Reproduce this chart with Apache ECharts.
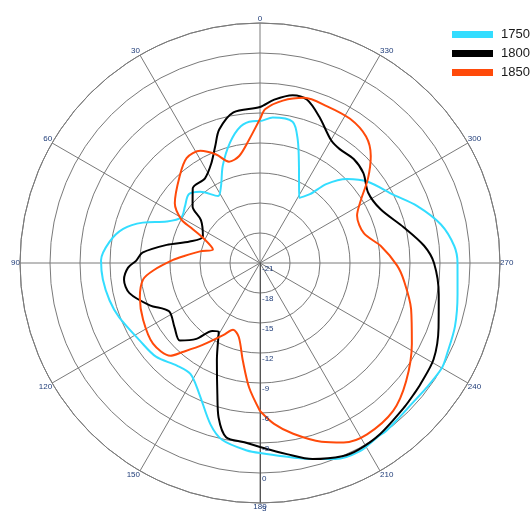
<!DOCTYPE html>
<html>
<head>
<meta charset="utf-8">
<script src="https://cdn.jsdelivr.net/npm/echarts@6/dist/echarts.min.js"></script>
<style>html,body{margin:0;padding:0;background:#fff;}#c{width:530px;height:513px;}</style>
</head>
<body>
<div id="c"></div>
<script>
const seriesNames = ['1750', '1800', '1850'];
const angleTicks = [0, 30, 60, 90, 120, 150, 180, 210, 240, 270, 300, 330];
const radiusTicks = [-21, -18, -15, -12, -9, -6, -3, 0, 3];

const angles1750 = [0, 3, 8, 14, 21, 27, 32, 40, 46, 53, 60, 66, 71, 76, 82, 89, 96, 104, 111, 123, 132, 141, 148, 155, 163, 168, 176, 180, 186, 194, 201, 208, 214, 217, 222, 227, 233, 240, 244, 252, 261, 270, 275, 282, 290, 297, 307, 314, 320, 324, 329, 338, 343, 347, 355];
const values1750 = [-6.8, -6.8, -7.2, -8.6, -10.6, -12.4, -13.1, -11.7, -11.1, -11.6, -11.9, -10.8, -8.6, -6.9, -5.8, -5.1, -5.2, -5.5, -5.9, -6.7, -7.0, -7.8, -7.9, -6.6, -4.1, -2.9, -2.2, -2.0, -1.6, -0.8, 0.0, 0.3, 0.0, 0.0, -0.2, -0.3, -0.2, 0.0, -0.2, -0.5, -1.0, -1.25, -1.5, -2.5, -4.3, -6.0, -7.5, -8.9, -10.7, -12.5, -13.4, -10.6, -8.1, -6.5, -6.4];

const angles1800 = [0, 10, 17, 21, 26, 33, 42, 50, 54, 65, 73, 79, 85, 89, 92, 97, 103, 111, 118, 127, 134, 140, 145, 149, 156, 162, 165, 169, 175, 180, 188, 195, 203, 208, 215, 225, 230, 233, 241, 250, 260, 270, 276, 284, 294, 303, 311, 318, 325, 330, 338, 344, 349, 355];
const values1800 = [-5.4, -5.7, -7.05, -8.5, -9.9, -10.9, -10.95, -12.2, -13.7, -14.7, -13.65, -11.5, -9.2, -8.6, -7.8, -7.3, -7.6, -9.2, -10.7, -10.3, -9.85, -11.1, -12.7, -13.0, -10.4, -7.2, -5.0, -3.25, -3.0, -2.6, -1.7, -0.7, 0.0, 0.1, -0.1, -0.6, -0.8, -0.9, -1.15, -2.0, -2.85, -3.6, -4.5, -6.2, -7.8, -8.1, -7.3, -7.0, -7.1, -6.8, -5.2, -4.0, -3.9, -4.6];

const angles1850 = [0, 5, 11, 17, 22, 28, 35, 43, 55, 61, 63, 67, 74, 79, 85, 88, 94, 98, 106, 116, 127, 136, 139, 145, 153, 158, 164, 170, 175, 180, 185, 191, 199, 205, 212, 222, 231, 242, 253, 263, 269, 278, 286, 296, 302, 308, 314, 320, 328, 337, 345, 352, 358];
const values1850 = [-6.6, -8.6, -10.1, -10.4, -9.3, -8.3, -8.2, -9.2, -10.6, -12.0, -13.3, -15.0, -16.1, -14.9, -13.3, -12.3, -10.3, -9.2, -8.5, -8.0, -7.6, -8.1, -9.2, -11.0, -12.9, -13.8, -13.3, -11.1, -8.5, -6.2, -4.85, -3.6, -2.1, -1.2, -0.8, -1.1, -2.2, -3.8, -5.2, -6.5, -7.3, -8.8, -10.2, -10.2, -9.1, -7.3, -5.6, -4.5, -4.0, -3.95, -3.9, -4.6, -5.6];

const colors = ['#33DDFF', '#000000', '#FF4A0A'];

// angle axis runs 180..540 starting at the bottom so the radius axis lies along 180
function toLoop(angles, values) {
  const pts = angles.map((a, i) => [values[i], a < 180 ? a + 360 : a]);
  pts.sort((p, q) => p[1] - q[1]);
  pts.push([pts[0][0], pts[0][1] + 360]);
  return pts;
}

const chart = echarts.init(document.getElementById('c'), null, {renderer: 'canvas'});
const font = 'Liberation Sans, Arial, sans-serif';
const rMin = radiusTicks[0], rMax = radiusTicks[radiusTicks.length - 1];
chart.setOption({
  animation: false,
  backgroundColor: '#ffffff',
  color: colors,
  legend: {
    orient: 'vertical',
    left: 447,
    top: 23,
    itemWidth: 41,
    itemHeight: 7,
    itemGap: 6,
    icon: 'rect',
    textStyle: {fontSize: 13, color: '#1a1a1a', fontFamily: font, padding: [0, 0, 0, 3]},
    data: seriesNames
  },
  polar: [
    {center: [260, 263], radius: 240},
    {center: [260, 263], radius: 240}
  ],
  angleAxis: [{
    polarIndex: 0,
    type: 'value',
    min: 180,
    max: 540,
    interval: 30,
    startAngle: 270,
    clockwise: false,
    axisLine: {show: true, lineStyle: {color: '#7a7a7a', width: 1}},
    axisTick: {show: false},
    splitLine: {show: true, lineStyle: {color: '#7a7a7a', width: 1}},
    axisLabel: {
      fontSize: 8, color: '#1f3c78', fontFamily: font, margin: 0,
      formatter: v => (v >= 540 ? '' : String(v % 360))
    }
  }, {
    polarIndex: 1,
    type: 'value', min: 180, max: 540, interval: 30, startAngle: 270, clockwise: false,
    axisLine: {show: false}, axisTick: {show: false}, splitLine: {show: false}, axisLabel: {show: false}
  }],
  radiusAxis: [{
    polarIndex: 0,
    type: 'value',
    min: rMin,
    max: rMax,
    interval: 3,
    axisLine: {show: true, lineStyle: {color: '#555555', width: 1}},
    axisTick: {show: false},
    splitLine: {show: true, lineStyle: {color: '#7a7a7a', width: 1}},
    axisLabel: {show: false}
  }, {
    polarIndex: 1,
    type: 'value',
    min: rMin,
    max: rMax,
    interval: 3,
    zlevel: 1,
    z: 10,
    axisLine: {show: false},
    axisTick: {show: false},
    splitLine: {show: false},
    axisLabel: {fontSize: 8, color: '#1f3c78', fontFamily: font, margin: 2, verticalAlign: 'top', padding: [2, 0, 0, 0]}
  }],
  series: [
    {name: seriesNames[0], type: 'line', coordinateSystem: 'polar', polarIndex: 0, data: toLoop(angles1750, values1750), showSymbol: false, smooth: 0.3, lineStyle: {width: 2, color: colors[0]}, itemStyle: {color: colors[0]}},
    {name: seriesNames[1], type: 'line', coordinateSystem: 'polar', polarIndex: 0, data: toLoop(angles1800, values1800), showSymbol: false, smooth: 0.3, lineStyle: {width: 2, color: colors[1]}, itemStyle: {color: colors[1]}},
    {name: seriesNames[2], type: 'line', coordinateSystem: 'polar', polarIndex: 0, data: toLoop(angles1850, values1850), showSymbol: false, smooth: 0.3, lineStyle: {width: 2, color: colors[2]}, itemStyle: {color: colors[2]}}
  ]
});
</script>
</body>
</html>
